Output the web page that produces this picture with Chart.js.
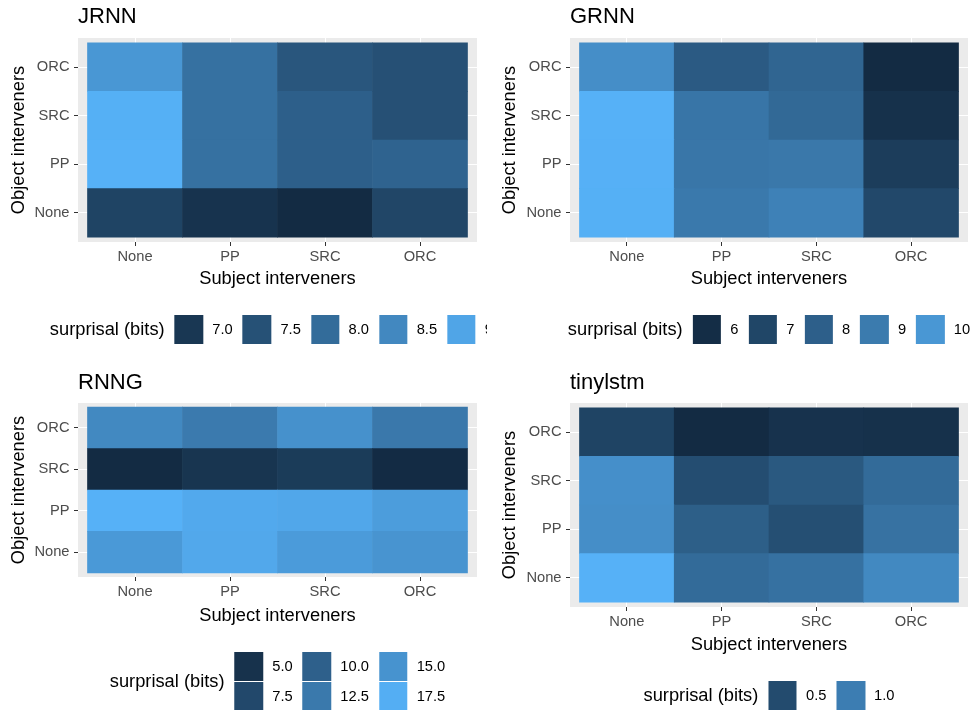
<!DOCTYPE html>
<html>
<head>
<meta charset="utf-8">
<title>surprisal heatmaps</title>
<script src="https://cdn.jsdelivr.net/npm/chart.js@4.4.1/dist/chart.umd.min.js"></script>
<style>
  body { margin: 0; background: #fff; }
  #page { position: relative; width: 973px; height: 710px; overflow: hidden; font-family: "Liberation Sans", Arial, sans-serif; }
  .cell { position: absolute; height: 355px; overflow: hidden; }
  .cell canvas { position: absolute; left: 0; top: 0; }
  .legend { position: absolute; display: flex; align-items: center; white-space: nowrap; transform: translateX(-50%); }
  .legend .ltitle { font-size: 18.3px; color: #000; margin-right: 10px; }
  .legend .keys { display: flex; flex-direction: column; gap: 1px; margin-right: 9px; }
  .legend .key { width: 28.7px; height: 28.7px; }
  .legend .labs { display: flex; flex-direction: column; gap: 1px; margin-right: 10px; }
  .legend .labs:last-child { margin-right: 0; }
  .legend .lab { font-size: 14.7px; color: #000; height: 28.7px; line-height: 28.7px; }
</style>
</head>
<body>
<div id="page"></div>
<script>
const subjects = ['None', 'PP', 'SRC', 'ORC'];
const objects = ['None', 'PP', 'SRC', 'ORC'];

// rows = object interveners (None, PP, SRC, ORC), columns = subject interveners
const jrnnValues = [
  [7.25, 6.92, 6.75, 7.29],
  [9.20, 8.10, 7.78, 7.85],
  [9.18, 8.10, 7.78, 7.49],
  [8.76, 8.10, 7.61, 7.49]
];
const grnnValues = [
  [10.85, 8.95, 9.25, 7.10],
  [10.88, 8.85, 8.90, 6.65],
  [10.90, 8.80, 8.35, 6.15],
  [9.70, 7.80, 8.20, 5.90]
];
const rnngValues = [
  [15.6, 17.0, 15.8, 15.1],
  [17.8, 17.1, 16.9, 15.9],
  [4.2, 5.3, 6.1, 4.25],
  [14.0, 12.6, 14.8, 12.4]
];
const tinylstmValues = [
  [1.48, 0.82, 0.88, 1.11],
  [1.16, 0.70, 0.54, 0.89],
  [1.17, 0.52, 0.64, 0.82],
  [0.42, 0.15, 0.23, 0.22]
];

const jrnnBreaks = [7.0, 7.5, 8.0, 8.5, 9.0];
const grnnBreaks = [6, 7, 8, 9, 10];
const rnngBreaks = [5.0, 7.5, 10.0, 12.5, 15.0, 17.5];
const tinylstmBreaks = [0.5, 1.0];

const lowColor = '#132B43';
const highColor = '#56B1F7';

Chart.defaults.font.family = '"Liberation Sans", Arial, sans-serif';

// ggplot style gradient, interpolated in CIELAB
const WX = 0.95047, WY = 1, WZ = 1.08883;
function toLin(c) { c /= 255; return c <= 0.04045 ? c / 12.92 : Math.pow((c + 0.055) / 1.055, 2.4); }
function fromLin(c) {
  const v = c <= 0.0031308 ? 12.92 * c : 1.055 * Math.pow(c, 1 / 2.4) - 0.055;
  return Math.round(Math.max(0, Math.min(1, v)) * 255);
}
function hexToLab(hex) {
  const r = toLin(parseInt(hex.slice(1, 3), 16));
  const g = toLin(parseInt(hex.slice(3, 5), 16));
  const b = toLin(parseInt(hex.slice(5, 7), 16));
  const X = (0.4124 * r + 0.3576 * g + 0.1805 * b) / WX;
  const Y = (0.2126 * r + 0.7152 * g + 0.0722 * b) / WY;
  const Z = (0.0193 * r + 0.1192 * g + 0.9505 * b) / WZ;
  const f = t => t > 0.008856 ? Math.cbrt(t) : 7.787 * t + 16 / 116;
  const fx = f(X), fy = f(Y), fz = f(Z);
  return [116 * fy - 16, 500 * (fx - fy), 200 * (fy - fz)];
}
function labToRgb(L, a, b) {
  const fy = (L + 16) / 116, fx = fy + a / 500, fz = fy - b / 200;
  const fi = t => { const t3 = t * t * t; return t3 > 0.008856 ? t3 : (t - 16 / 116) / 7.787; };
  const X = fi(fx) * WX, Y = fi(fy) * WY, Z = fi(fz) * WZ;
  const R = 3.2406 * X - 1.5372 * Y - 0.4986 * Z;
  const G = -0.9689 * X + 1.8758 * Y + 0.0415 * Z;
  const B = 0.0557 * X - 0.2040 * Y + 1.0570 * Z;
  return 'rgb(' + fromLin(R) + ',' + fromLin(G) + ',' + fromLin(B) + ')';
}
const labLow = hexToLab(lowColor), labHigh = hexToLab(highColor);
function ramp(t) {
  t = Math.max(0, Math.min(1, t));
  return labToRgb(
    labLow[0] + (labHigh[0] - labLow[0]) * t,
    labLow[1] + (labHigh[1] - labLow[1]) * t,
    labLow[2] + (labHigh[2] - labLow[2]) * t
  );
}

// grey panel background
const panelBg = {
  id: 'panelBg',
  beforeDraw(chart) {
    const { ctx, chartArea: a } = chart;
    ctx.save();
    ctx.fillStyle = '#EBEBEB';
    ctx.fillRect(a.left, a.top, a.right - a.left, a.bottom - a.top);
    ctx.restore();
  }
};

const panels = [
  { title: 'JRNN', values: jrnnValues, breaks: jrnnBreaks, digits: 1, nrow: 1,
    left: 0, top: 0, width: 487, pad: { left: 5, right: 10, bottom: 65.5 }, yw: 73, xh: 47.5,
    titlePad: { top: 3.6, bottom: 8 }, legendTop: 315, legendX: 277.5 },
  { title: 'GRNN', values: grnnValues, breaks: grnnBreaks, digits: 0, nrow: 1,
    left: 487, top: 0, width: 486, pad: { left: 9, right: 5, bottom: 65.5 }, yw: 74, xh: 47.5,
    titlePad: { top: 3.6, bottom: 8 }, legendTop: 315, legendX: 282 },
  { title: 'RNNG', values: rnngValues, breaks: rnngBreaks, digits: 1, nrow: 2,
    left: 0, top: 355, width: 487, pad: { left: 5, right: 10, bottom: 83.5 }, yw: 73, xh: 49.5,
    titlePad: { top: 15, bottom: 6.6 }, legendTop: 297, legendX: 277.5 },
  { title: 'tinylstm', values: tinylstmValues, breaks: tinylstmBreaks, digits: 1, nrow: 1,
    left: 487, top: 355, width: 486, pad: { left: 9, right: 5, bottom: 54.5 }, yw: 74, xh: 48.5,
    titlePad: { top: 15, bottom: 6.6 }, legendTop: 326, legendX: 282 }
];

const page = document.getElementById('page');

panels.forEach(p => {
  const cell = document.createElement('div');
  cell.className = 'cell';
  cell.style.left = p.left + 'px';
  cell.style.top = p.top + 'px';
  cell.style.width = p.width + 'px';
  const canvas = document.createElement('canvas');
  canvas.width = p.width;
  canvas.height = 355;
  cell.appendChild(canvas);
  page.appendChild(cell);

  const flat = p.values.flat();
  const lo = Math.min(...flat), hi = Math.max(...flat);
  const fillFor = v => ramp((v - lo) / (hi - lo));

  new Chart(canvas, {
    type: 'bar',
    data: {
      datasets: objects.map((obj, r) => ({
        label: obj,
        data: subjects.map((s, c) => ({ x: c + 1, y: [r + 0.5, r + 1.5] })),
        backgroundColor: p.values[r].map(fillFor),
        grouped: false,
        barPercentage: 1,
        categoryPercentage: 1,
        borderWidth: 0
      }))
    },
    options: {
      responsive: false,
      animation: false,
      events: [],
      layout: { padding: { left: p.pad.left, right: p.pad.right, top: 0, bottom: p.pad.bottom } },
      scales: {
        x: {
          type: 'linear', min: 0.4, max: 4.6, offset: false,
          afterBuildTicks: s => { s.ticks = subjects.map((_, i) => ({ value: i + 1 })); },
          afterFit: s => { s.height = p.xh; },
          ticks: { callback: v => subjects[v - 1], color: '#4D4D4D', font: { size: 14.7 }, padding: 2.2, maxRotation: 0, autoSkip: false },
          grid: { offset: false, color: '#FFFFFF', lineWidth: 1, tickColor: '#333333', tickLength: 4, tickWidth: 1 },
          border: { display: false },
          title: { display: true, text: 'Subject interveners', color: '#000', font: { size: 18.3 }, padding: { top: 0, bottom: 0 } }
        },
        y: {
          type: 'linear', min: 0.4, max: 4.6,
          afterBuildTicks: s => { s.ticks = objects.map((_, i) => ({ value: i + 1 })); },
          afterFit: s => { s.width = p.yw; },
          ticks: { callback: v => objects[v - 1], color: '#4D4D4D', font: { size: 14.7 }, padding: 4.5, autoSkip: false },
          grid: { color: '#FFFFFF', lineWidth: 1, tickColor: '#333333', tickLength: 4, tickWidth: 1 },
          border: { display: false },
          title: { display: true, text: 'Object interveners', color: '#000', font: { size: 18.3 }, padding: { top: 2.5, bottom: 0 } }
        }
      },
      plugins: {
        legend: { display: false },
        tooltip: { enabled: false },
        title: {
          display: true, text: p.title, align: 'start', fullSize: false, color: '#000',
          font: { size: 22, weight: 'normal' }, padding: p.titlePad
        }
      }
    },
    plugins: [panelBg]
  });

  // colour key legend
  const legend = document.createElement('div');
  legend.className = 'legend';
  legend.style.left = p.legendX + 'px';
  legend.style.top = p.legendTop + 'px';
  const lt = document.createElement('span');
  lt.className = 'ltitle';
  lt.textContent = 'surprisal (bits)';
  legend.appendChild(lt);
  const ncol = Math.ceil(p.breaks.length / p.nrow);
  for (let j = 0; j < ncol; j++) {
    const keys = document.createElement('div');
    keys.className = 'keys';
    const labs = document.createElement('div');
    labs.className = 'labs';
    for (let r = 0; r < p.nrow; r++) {
      const b = p.breaks[j * p.nrow + r];
      if (b === undefined) continue;
      const k = document.createElement('div');
      k.className = 'key';
      k.style.background = fillFor(b);
      keys.appendChild(k);
      const l = document.createElement('div');
      l.className = 'lab';
      l.textContent = b.toFixed(p.digits);
      labs.appendChild(l);
    }
    legend.appendChild(keys);
    legend.appendChild(labs);
  }
  cell.appendChild(legend);
});
</script>
</body>
</html>
